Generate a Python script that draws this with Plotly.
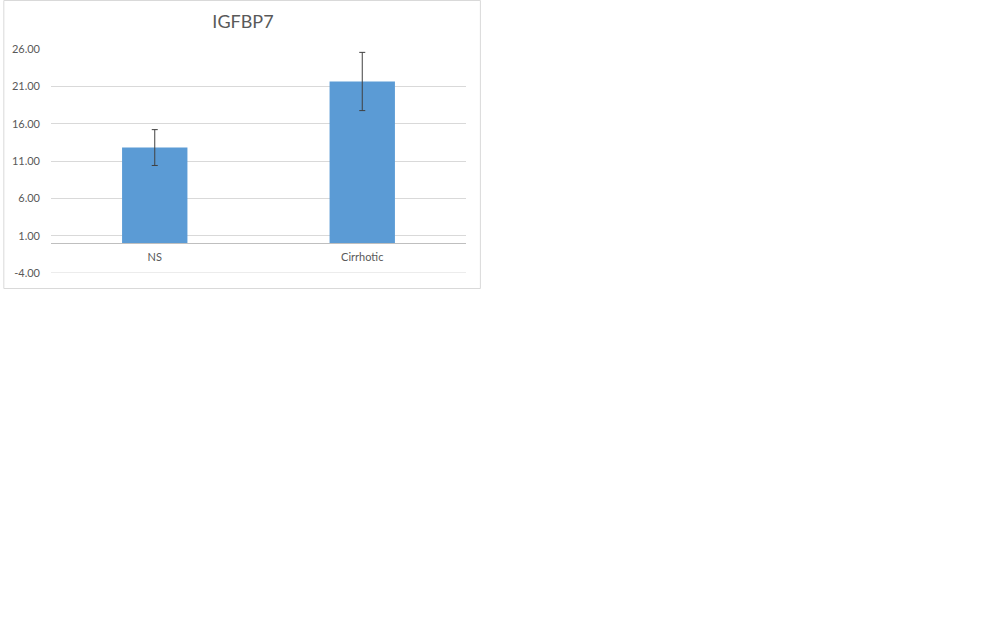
import plotly.graph_objects as go

# data
categories = ["NS", "Cirrhotic"]
means = [12.8, 21.65]
errors = [2.4, 3.9]
y_ticks = [-4, 1, 6, 11, 16, 21, 26]
y_min, y_max = -4, 26

# plot area in page pixels (body margin is removed below)
left, top = 48, 49
plot_w, plot_h = 418, 224
frame_right, frame_bottom = 480.5, 288.5

fig = go.Figure(
    go.Bar(
        x=categories,
        y=means,
        marker=dict(color="#5B9BD5", line=dict(width=0)),
        error_y=dict(type="data", array=errors, color="#404040", thickness=1, width=3),
        showlegend=False,
    )
)

# chart area border (Excel-style frame)
fig.add_shape(
    type="rect",
    xref="paper",
    yref="paper",
    x0=(0.5 - left) / plot_w,
    x1=(frame_right - left) / plot_w,
    y0=-(frame_bottom - (top + plot_h)) / plot_h,
    y1=1 + (top - 0.5) / plot_h,
    line=dict(color="#d9d9d9", width=1),
    fillcolor="rgba(0,0,0,0)",
    layer="below",
)
# bottom gridline at the range edge
fig.add_shape(
    type="line",
    xref="paper",
    yref="y",
    x0=0,
    x1=1,
    y0=y_min,
    y1=y_min,
    line=dict(color="#d9d9d9", width=1),
    layer="below",
)

fig.update_layout(
    width=1008,
    height=630,
    margin=dict(l=left, r=1008 - left - plot_w, t=top, b=630 - top - plot_h),
    paper_bgcolor="white",
    plot_bgcolor="white",
    bargap=0.685,
    font=dict(family="Lato, Open Sans, sans-serif", color="#595959", size=11),
    title=dict(
        text="IGFBP7",
        xref="container",
        yref="container",
        x=243 / 1008,
        y=1 - 22 / 630,
        xanchor="center",
        yanchor="middle",
        font=dict(size=18, color="#595959"),
    ),
    xaxis=dict(
        anchor="free",
        position=(0 - y_min) / (y_max - y_min),
        showline=True,
        linecolor="#bfbfbf",
        linewidth=1,
        ticks="",
        showgrid=False,
        ticklabelstandoff=4,
        tickfont=dict(size=11, color="#595959"),
    ),
    yaxis=dict(
        range=[y_min, y_max],
        tickvals=y_ticks,
        ticktext=[f"{v:.2f}" for v in y_ticks],
        showgrid=True,
        gridcolor="#d9d9d9",
        gridwidth=1,
        zeroline=False,
        showline=False,
        ticks="",
        ticklabelstandoff=10,
        tickfont=dict(size=11, color="#595959"),
    ),
)

fig.write_html(
    "out.html",
    config={"displayModeBar": False},
    post_script="document.body.style.margin = '0';",
)
